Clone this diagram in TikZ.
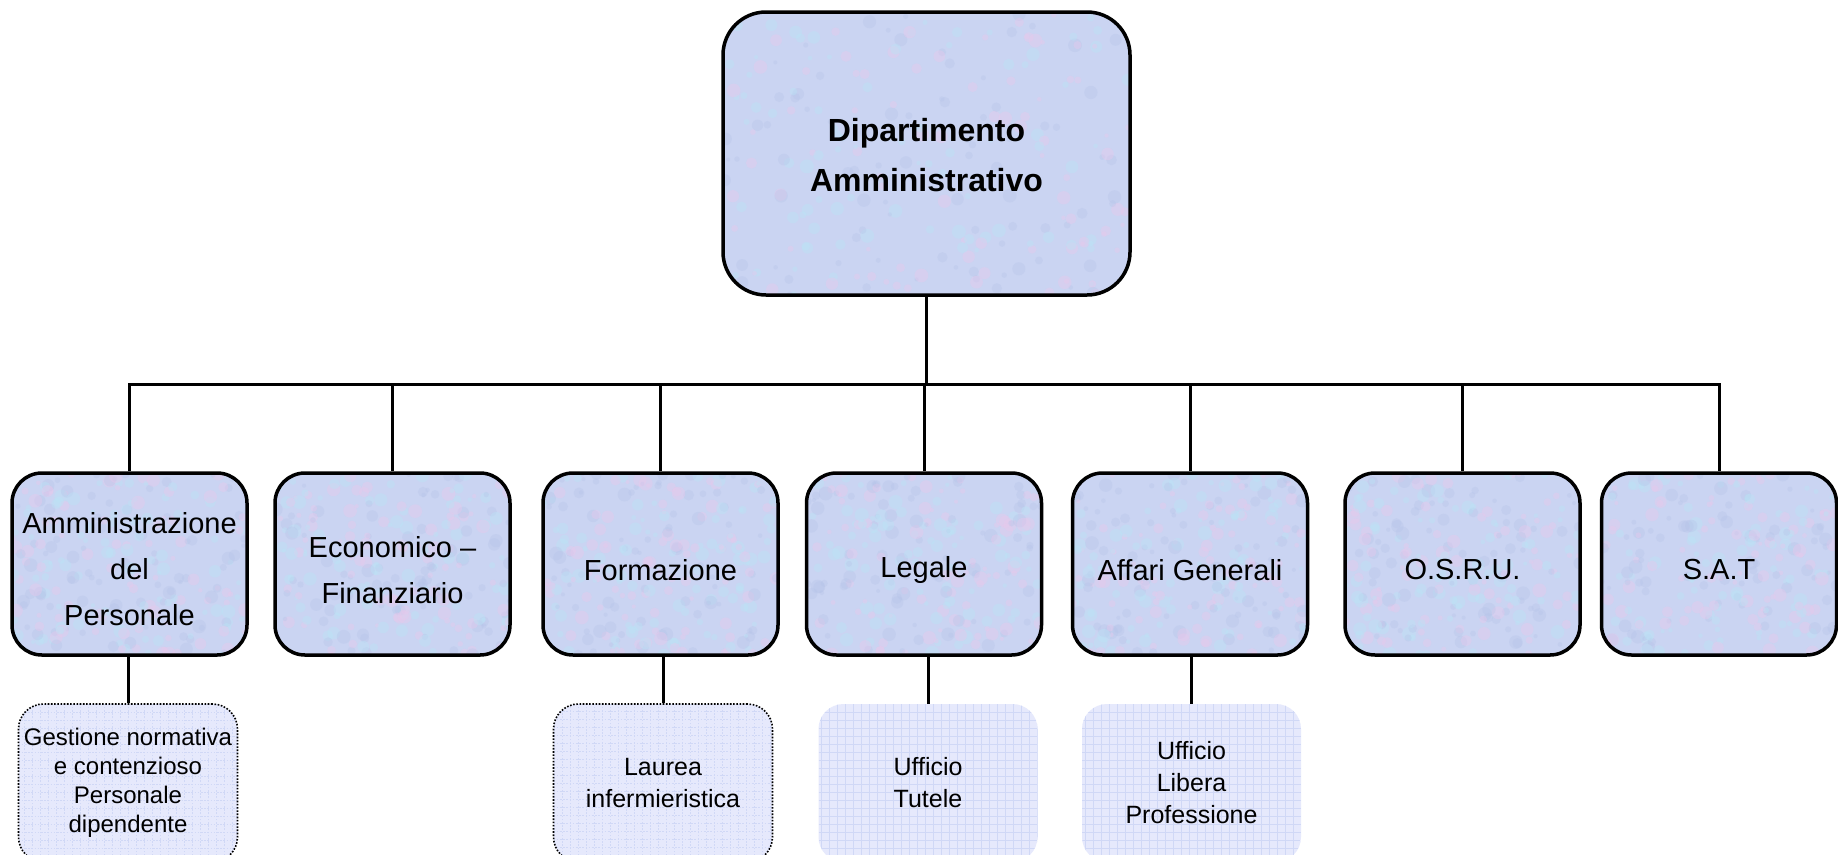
\documentclass[tikz,border=0pt]{standalone}
\usepackage{fontspec}
\setmainfont{Liberation Sans}
\definecolor{boxbase}{RGB}{202,212,242}
\definecolor{mpink}{RGB}{232,200,236}
\definecolor{mcyan}{RGB}{186,228,246}
\definecolor{mblue}{RGB}{180,194,232}
\definecolor{subbase}{RGB}{230,233,252}
\definecolor{subgrid}{RGB}{208,216,246}
\newcommand\mymottle{%
  \pgfpointanchor{path picture bounding box}{south west}\pgfgetlastxy{\ax}{\ay}%
  \pgfpointanchor{path picture bounding box}{north east}\pgfgetlastxy{\bx}{\by}%
  \foreach \k in {1,...,260}{%
    \pgfmathsetmacro\px{\ax+rnd*(\bx-\ax)}%
    \pgfmathsetmacro\py{\ay+rnd*(\by-\ay)}%
    \pgfmathsetmacro\pr{2+rnd*5}%
    \pgfmathtruncatemacro\pc{mod(\k,3)}%
    \ifnum\pc=0 \fill[mpink,opacity=.4] (\px pt,\py pt) circle[radius=\pr pt];\fi
    \ifnum\pc=1 \fill[mcyan,opacity=.4] (\px pt,\py pt) circle[radius=\pr pt];\fi
    \ifnum\pc=2 \fill[mblue,opacity=.3] (\px pt,\py pt) circle[radius=\pr pt];\fi
  }}
\tikzset{
  topbox/.style={draw, line width=3.5pt, rounded corners=43pt, fill=boxbase,
    minimum width=407pt, minimum height=283pt, path picture={\mymottle}},
  unitbox/.style={draw, line width=3.5pt, rounded corners=30pt, fill=boxbase,
    minimum width=235pt, minimum height=182pt, path picture={\mymottle}},
  subbox/.style={fill=subbase, rounded corners=25pt,
    minimum width=219pt, minimum height=158pt,
    path picture={\draw[subgrid, line width=0.5pt]
      (path picture bounding box.south west) grid[step=8pt]
      (path picture bounding box.north east);},
    align=center, font=\fontsize{25}{32}\selectfont},
  dottedborder/.style={draw, line width=1.6pt, dash pattern=on 1.6pt off 1.6pt},
  unitlbl/.style={align=center, font=\fontsize{29}{46}\selectfont, inner sep=0pt},
  toplbl/.style={align=center, font=\fontsize{32}{50}\selectfont\bfseries, inner sep=0pt},
  conn/.style={draw, line width=3pt}
}
\begin{document}
\begin{tikzpicture}[x=1pt,y=-1pt]
\pgfmathsetseed{4242}
\useasboundingbox (0,0) rectangle (1838,854);
\fill[white] (0,0) rectangle (1838,854);

% top
\node[topbox] (top) at (926.5,153.5) {};
\node[toplbl] (toptxt) at ([yshift=-2pt]top.center) {Dipartimento\\Amministrativo};

% level 1
\node[unitbox] (b1) at (129.5,564) {};
\node[unitbox] (b2) at (392.5,564) {};
\node[unitbox] (b3) at (660.5,564) {};
\node[unitbox] (b4) at (924,564) {};
\node[unitbox] (b5) at (1190,564) {};
\node[unitbox] (b6) at (1462.5,564) {};
\node[unitbox] (b7) at (1719,564) {};

\node[unitlbl] (t1) at ([yshift=-5pt]b1.center) {Amministrazione\\del\\Personale};
\node[unitlbl] (t2) at ([yshift=-6pt]b2.center) {Economico --\\Finanziario};
\node[unitlbl] (t3) at ([yshift=-6pt]b3.center) {Formazione};
\node[unitlbl] (t4) at ([yshift=-6pt]b4.center) {Legale};
\node[unitlbl] (t5) at ([yshift=-6pt]b5.center) {Affari Generali};
\node[unitlbl] (t6) at ([yshift=-6pt]b6.center) {O.S.R.U.};
\node[unitlbl] (t7) at ([yshift=-6pt]b7.center) {S.A.T};

% level 2
\node[subbox, dottedborder, font=\fontsize{24}{29}\selectfont] (s1) at (128,783)
  {Gestione normativa\\e contenzioso\\Personale\\dipendente};
\node[subbox, dottedborder] (s2) at (663,783) {Laurea\\infermieristica};
\node[subbox] (s3) at (928,783) {Ufficio\\Tutele};
\node[subbox] (s4) at (1191.5,783) {Ufficio\\Libera\\Professione};

% connectors
\coordinate (bus) at (0,384);
\draw[conn] (top.south) -- (top.south |- bus);
\draw[conn] (b1.north) -- (b1.north |- bus) -- (b7.north |- bus) -- (b7.north);
\foreach \b in {b2,b3,b4,b5,b6}{
  \draw[conn] (\b.north) -- (\b.north |- bus);
}
\draw[conn] (s1.north) -- (s1.north |- b1.south);
\draw[conn] (s2.north) -- (s2.north |- b3.south);
\draw[conn] (s3.north) -- (s3.north |- b4.south);
\draw[conn] (s4.north) -- (s4.north |- b5.south);
\end{tikzpicture}
\end{document}
